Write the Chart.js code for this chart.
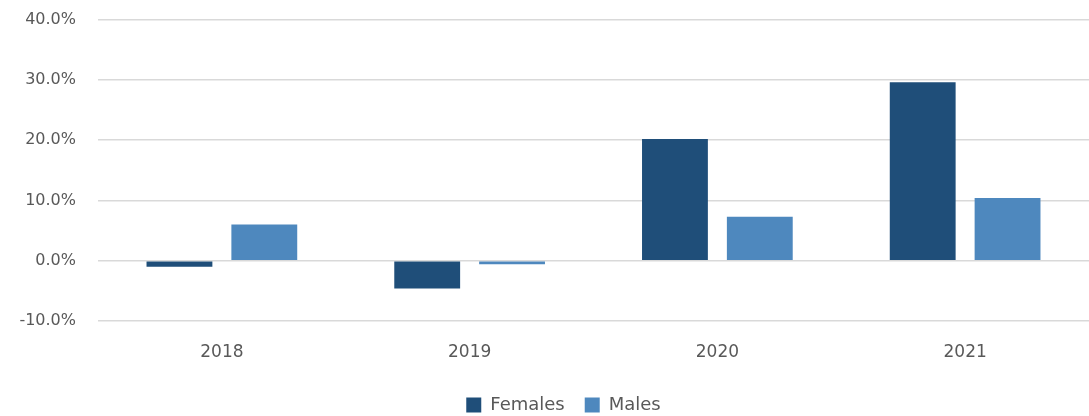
<!DOCTYPE html>
<html>
<head>
<meta charset="utf-8">
<script src="https://cdn.jsdelivr.net/npm/chart.js@4"></script>
<style>
    html, body { margin: 0; padding: 0; background: #ffffff; overflow: hidden; }
    #wrap { width: 1089px; height: 436px; margin-top: -12px; }
</style>
</head>
<body>
<div id="wrap"><canvas id="genderChart"></canvas></div>
<script>
// Dados
const years = ['2018', '2019', '2020', '2021'];
const females = [-1.0, -4.6, 20.2, 29.6];
const males = [6.0, -0.6, 7.3, 10.4];
const yTicks = [-10, 0, 10, 20, 30, 40];

const textColor = '#595959';
const fontFamily = '"DejaVu Sans", sans-serif';

// Desloca a legenda para ficar centrada sob a área do gráfico
const legendShift = {
    id: 'legendShift',
    afterLayout: function(chart) {
        if (chart.legend) {
            chart.legend.left += 19;
            chart.legend.right += 19;
        }
    }
};

const ctx = document.getElementById('genderChart').getContext('2d');
new Chart(ctx, {
    type: 'bar',
    data: {
        labels: years,
        datasets: [
            {
                label: 'Females',
                data: females,
                backgroundColor: '#1F4E79',
                borderWidth: 0
            },
            {
                label: 'Males',
                data: males,
                backgroundColor: '#4E88BE',
                borderWidth: 0
            }
        ]
    },
    plugins: [legendShift],
    options: {
        responsive: true,
        maintainAspectRatio: false,
        animation: false,
        barPercentage: 0.776,
        categoryPercentage: 0.685,
        plugins: {
            legend: {
                position: 'bottom',
                labels: {
                    boxWidth: 15,
                    boxHeight: 15,
                    padding: 20,
                    color: textColor,
                    font: { family: fontFamily, size: 18 }
                }
            },
            tooltip: { enabled: false }
        },
        scales: {
            x: {
                grid: { display: false },
                border: { display: false },
                afterFit: function(axis) {
                    axis.height = 55;
                },
                ticks: {
                    color: textColor,
                    padding: 13,
                    font: { family: fontFamily, size: 17 }
                }
            },
            y: {
                min: -10,
                max: 40,
                afterBuildTicks: function(axis) {
                    axis.ticks = yTicks.map(v => ({ value: v }));
                },
                afterFit: function(axis) {
                    axis.width = 98;
                },
                grid: {
                    color: '#D9D9D9',
                    lineWidth: 1.5,
                    drawTicks: false
                },
                border: { display: false },
                ticks: {
                    color: textColor,
                    padding: 22,
                    font: { family: fontFamily, size: 16 },
                    callback: function(value) {
                        return value.toFixed(1) + '%';
                    }
                }
            }
        }
    }
});
</script>
</body>
</html>
